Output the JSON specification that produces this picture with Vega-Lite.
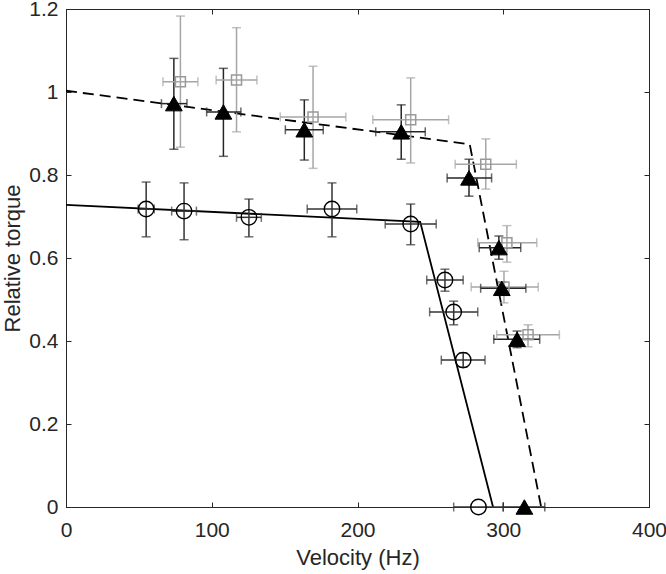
{
  "$schema": "https://vega.github.io/schema/vega-lite/v6.json",
  "autosize": "none",
  "padding": {"left": 66, "top": 9, "right": 17, "bottom": 67},
  "width": 583,
  "height": 498,
  "background": "white",
  "config": {
    "font": "Liberation Sans",
    "view": {"stroke": "#262626", "strokeWidth": 1}
  },
  "datasets": {
    "lines": [
      {"series": "solid", "v": 0, "t": 0.728},
      {"series": "solid", "v": 243, "t": 0.687},
      {"series": "solid", "v": 293, "t": 0},
      {"series": "dashed", "v": 0, "t": 1.003},
      {"series": "dashed", "v": 277, "t": 0.874},
      {"series": "dashed", "v": 326, "t": 0}
    ],
    "pts": [
      {"s": "square", "v": 78.5, "t": 1.025, "tlo": 0.867, "thi": 1.183, "vlo": 66.5, "vhi": 90.5},
      {"s": "square", "v": 117, "t": 1.029, "tlo": 0.904, "thi": 1.155, "vlo": 103, "vhi": 131},
      {"s": "square", "v": 169.5, "t": 0.94, "tlo": 0.816, "thi": 1.062, "vlo": 147, "vhi": 192},
      {"s": "square", "v": 236.5, "t": 0.933, "tlo": 0.829, "thi": 1.034, "vlo": 210.5, "vhi": 262.5},
      {"s": "square", "v": 288, "t": 0.826, "tlo": 0.766, "thi": 0.887, "vlo": 267, "vhi": 309},
      {"s": "square", "v": 302.5, "t": 0.637, "tlo": 0.59, "thi": 0.678, "vlo": 282.5, "vhi": 323},
      {"s": "square", "v": 300.5, "t": 0.53, "tlo": 0.492, "thi": 0.568, "vlo": 278, "vhi": 324},
      {"s": "square", "v": 317, "t": 0.415, "tlo": 0.386, "thi": 0.439, "vlo": 295.5, "vhi": 338.5},
      {"s": "circle", "v": 55, "t": 0.718, "tlo": 0.651, "thi": 0.783, "vlo": 49.5, "vhi": 60.5},
      {"s": "circle", "v": 81, "t": 0.713, "tlo": 0.644, "thi": 0.781, "vlo": 72.5, "vhi": 89.5},
      {"s": "circle", "v": 125.5, "t": 0.698, "tlo": 0.651, "thi": 0.742, "vlo": 117, "vhi": 134},
      {"s": "circle", "v": 182.5, "t": 0.718, "tlo": 0.651, "thi": 0.781, "vlo": 165.5, "vhi": 199.5},
      {"s": "circle", "v": 236.5, "t": 0.682, "tlo": 0.632, "thi": 0.73, "vlo": 219, "vhi": 254},
      {"s": "circle", "v": 260, "t": 0.547, "tlo": 0.52, "thi": 0.573, "vlo": 247.5, "vhi": 272.5},
      {"s": "circle", "v": 266, "t": 0.47, "tlo": 0.439, "thi": 0.496, "vlo": 249.5, "vhi": 282.5},
      {"s": "circle", "v": 272.5, "t": 0.354, "tlo": 0.337, "thi": 0.371, "vlo": 257.5, "vhi": 287.5},
      {"s": "circle", "v": 283, "t": 0, "tlo": null, "thi": null, "vlo": 266, "vhi": 300},
      {"s": "triangle", "v": 74, "t": 0.972, "tlo": 0.862, "thi": 1.081, "vlo": 65.5, "vhi": 83},
      {"s": "triangle", "v": 108, "t": 0.952, "tlo": 0.845, "thi": 1.057, "vlo": 96.5, "vhi": 120},
      {"s": "triangle", "v": 163.5, "t": 0.909, "tlo": 0.836, "thi": 0.981, "vlo": 150.5, "vhi": 176.5},
      {"s": "triangle", "v": 230, "t": 0.904, "tlo": 0.838, "thi": 0.969, "vlo": 212.5, "vhi": 246.5},
      {"s": "triangle", "v": 276.5, "t": 0.793, "tlo": 0.749, "thi": 0.838, "vlo": 261.5, "vhi": 292},
      {"s": "triangle", "v": 297, "t": 0.625, "tlo": 0.597, "thi": 0.653, "vlo": 283.5, "vhi": 312},
      {"s": "triangle", "v": 299, "t": 0.527, "tlo": 0.511, "thi": 0.542, "vlo": 284.5, "vhi": 315.5},
      {"s": "triangle", "v": 309.5, "t": 0.404, "tlo": 0.384, "thi": 0.424, "vlo": 293.5, "vhi": 325},
      {"s": "triangle", "v": 314.5, "t": 0, "tlo": null, "thi": null, "vlo": 300, "vhi": 328.5}
    ]
  },
  "resolve": {"axis": {"x": "independent", "y": "independent"}},
  "layer": [
    {
      "data": {"name": "lines"},
      "transform": [{"filter": "datum.series === 'solid'"}],
      "mark": {"type": "line", "color": "#000000", "strokeWidth": 1.8, "clip": true},
      "encoding": {
        "x": {"field": "v", "type": "quantitative", "scale": {"domain": [0, 400], "nice": false},
              "axis": {"title": "Velocity (Hz)", "values": [0, 100, 200, 300, 400], "labelPadding": 17, "titlePadding": 7,
                       "labelFont": "Liberation Sans", "titleFont": "Liberation Sans", "labelFontSize": 21, "titleFontSize": 22, "titleFontWeight": "normal",
                       "labelColor": "#262626", "titleColor": "#262626", "domainColor": "#262626", "tickColor": "#262626", "tickSize": -5, "grid": false, "labelFlush": false, "labelOverlap": false}},
        "y": {"field": "t", "type": "quantitative", "scale": {"domain": [0, 1.2], "nice": false},
              "axis": {"title": "Relative torque", "values": [0, 0.2, 0.4, 0.6, 0.8, 1, 1.2], "format": "~g", "labelPadding": 13, "titlePadding": 4,
                       "labelFont": "Liberation Sans", "titleFont": "Liberation Sans", "labelFontSize": 21, "titleFontSize": 22, "titleFontWeight": "normal",
                       "labelColor": "#262626", "titleColor": "#262626", "domainColor": "#262626", "tickColor": "#262626", "tickSize": -5, "grid": false, "labelFlush": false, "labelOverlap": false}}
      }
    },
    {
      "data": {"name": "lines"},
      "transform": [{"filter": "datum.series === 'dashed'"}],
      "mark": {"type": "line", "color": "#000000", "strokeWidth": 1.8, "strokeDash": [11, 6], "clip": true},
      "encoding": {
        "x": {"field": "v", "type": "quantitative",
              "axis": {"orient": "top", "title": null, "labels": false, "values": [0, 100, 200, 300, 400], "domainColor": "#262626", "tickColor": "#262626", "tickSize": -5, "grid": false}},
        "y": {"field": "t", "type": "quantitative",
              "axis": {"orient": "right", "title": null, "labels": false, "values": [0, 0.2, 0.4, 0.6, 0.8, 1, 1.2], "domainColor": "#262626", "tickColor": "#262626", "tickSize": -5, "grid": false}}
      }
    },
    {
      "data": {"name": "pts"},
      "mark": {"type": "rule", "strokeWidth": 1.5},
      "encoding": {
        "x": {"field": "v", "type": "quantitative", "axis": null},
        "y": {"field": "tlo", "type": "quantitative", "axis": null},
        "y2": {"field": "thi"},
        "color": {"field": "s", "type": "nominal", "legend": null,
                  "scale": {"domain": ["square", "circle", "triangle"], "range": ["#a6a6a6", "#333333", "#262626"]}}
      }
    },
    {
      "data": {"name": "pts"},
      "mark": {"type": "rule", "strokeWidth": 1.5},
      "encoding": {
        "x": {"field": "vlo", "type": "quantitative", "axis": null},
        "x2": {"field": "vhi"},
        "y": {"field": "t", "type": "quantitative", "axis": null},
        "color": {"field": "s", "type": "nominal", "legend": null}
      }
    },
    {
      "data": {"name": "pts"},
      "mark": {"type": "tick", "orient": "horizontal", "size": 9, "thickness": 1.5},
      "encoding": {
        "x": {"field": "v", "type": "quantitative", "axis": null},
        "y": {"field": "tlo", "type": "quantitative", "axis": null},
        "color": {"field": "s", "type": "nominal", "legend": null}
      }
    },
    {
      "data": {"name": "pts"},
      "mark": {"type": "tick", "orient": "horizontal", "size": 9, "thickness": 1.5},
      "encoding": {
        "x": {"field": "v", "type": "quantitative", "axis": null},
        "y": {"field": "thi", "type": "quantitative", "axis": null},
        "color": {"field": "s", "type": "nominal", "legend": null}
      }
    },
    {
      "data": {"name": "pts"},
      "mark": {"type": "tick", "orient": "vertical", "size": 9, "thickness": 1.5},
      "encoding": {
        "x": {"field": "vlo", "type": "quantitative", "axis": null},
        "y": {"field": "t", "type": "quantitative", "axis": null},
        "color": {"field": "s", "type": "nominal", "legend": null}
      }
    },
    {
      "data": {"name": "pts"},
      "mark": {"type": "tick", "orient": "vertical", "size": 9, "thickness": 1.5},
      "encoding": {
        "x": {"field": "vhi", "type": "quantitative", "axis": null},
        "y": {"field": "t", "type": "quantitative", "axis": null},
        "color": {"field": "s", "type": "nominal", "legend": null}
      }
    },
    {
      "data": {"name": "pts"},
      "transform": [{"filter": "datum.s === 'square'"}],
      "mark": {"type": "point", "shape": "square", "size": 100, "filled": false, "stroke": "#999999", "strokeWidth": 1.5, "opacity": 1, "clip": false},
      "encoding": {
        "x": {"field": "v", "type": "quantitative", "axis": null},
        "y": {"field": "t", "type": "quantitative", "axis": null}
      }
    },
    {
      "data": {"name": "pts"},
      "transform": [{"filter": "datum.s === 'circle'"}],
      "mark": {"type": "point", "shape": "circle", "size": 240, "filled": false, "stroke": "#000000", "strokeWidth": 1.4, "opacity": 1, "clip": false},
      "encoding": {
        "x": {"field": "v", "type": "quantitative", "axis": null},
        "y": {"field": "t", "type": "quantitative", "axis": null}
      }
    },
    {
      "data": {"name": "pts"},
      "transform": [{"filter": "datum.s === 'triangle'"}],
      "mark": {"type": "point", "shape": "triangle-up", "size": 280, "filled": true, "fill": "#000000", "stroke": "#000000", "strokeWidth": 1, "opacity": 1, "clip": false},
      "encoding": {
        "x": {"field": "v", "type": "quantitative", "axis": null},
        "y": {"field": "t", "type": "quantitative", "axis": null}
      }
    }
  ]
}
